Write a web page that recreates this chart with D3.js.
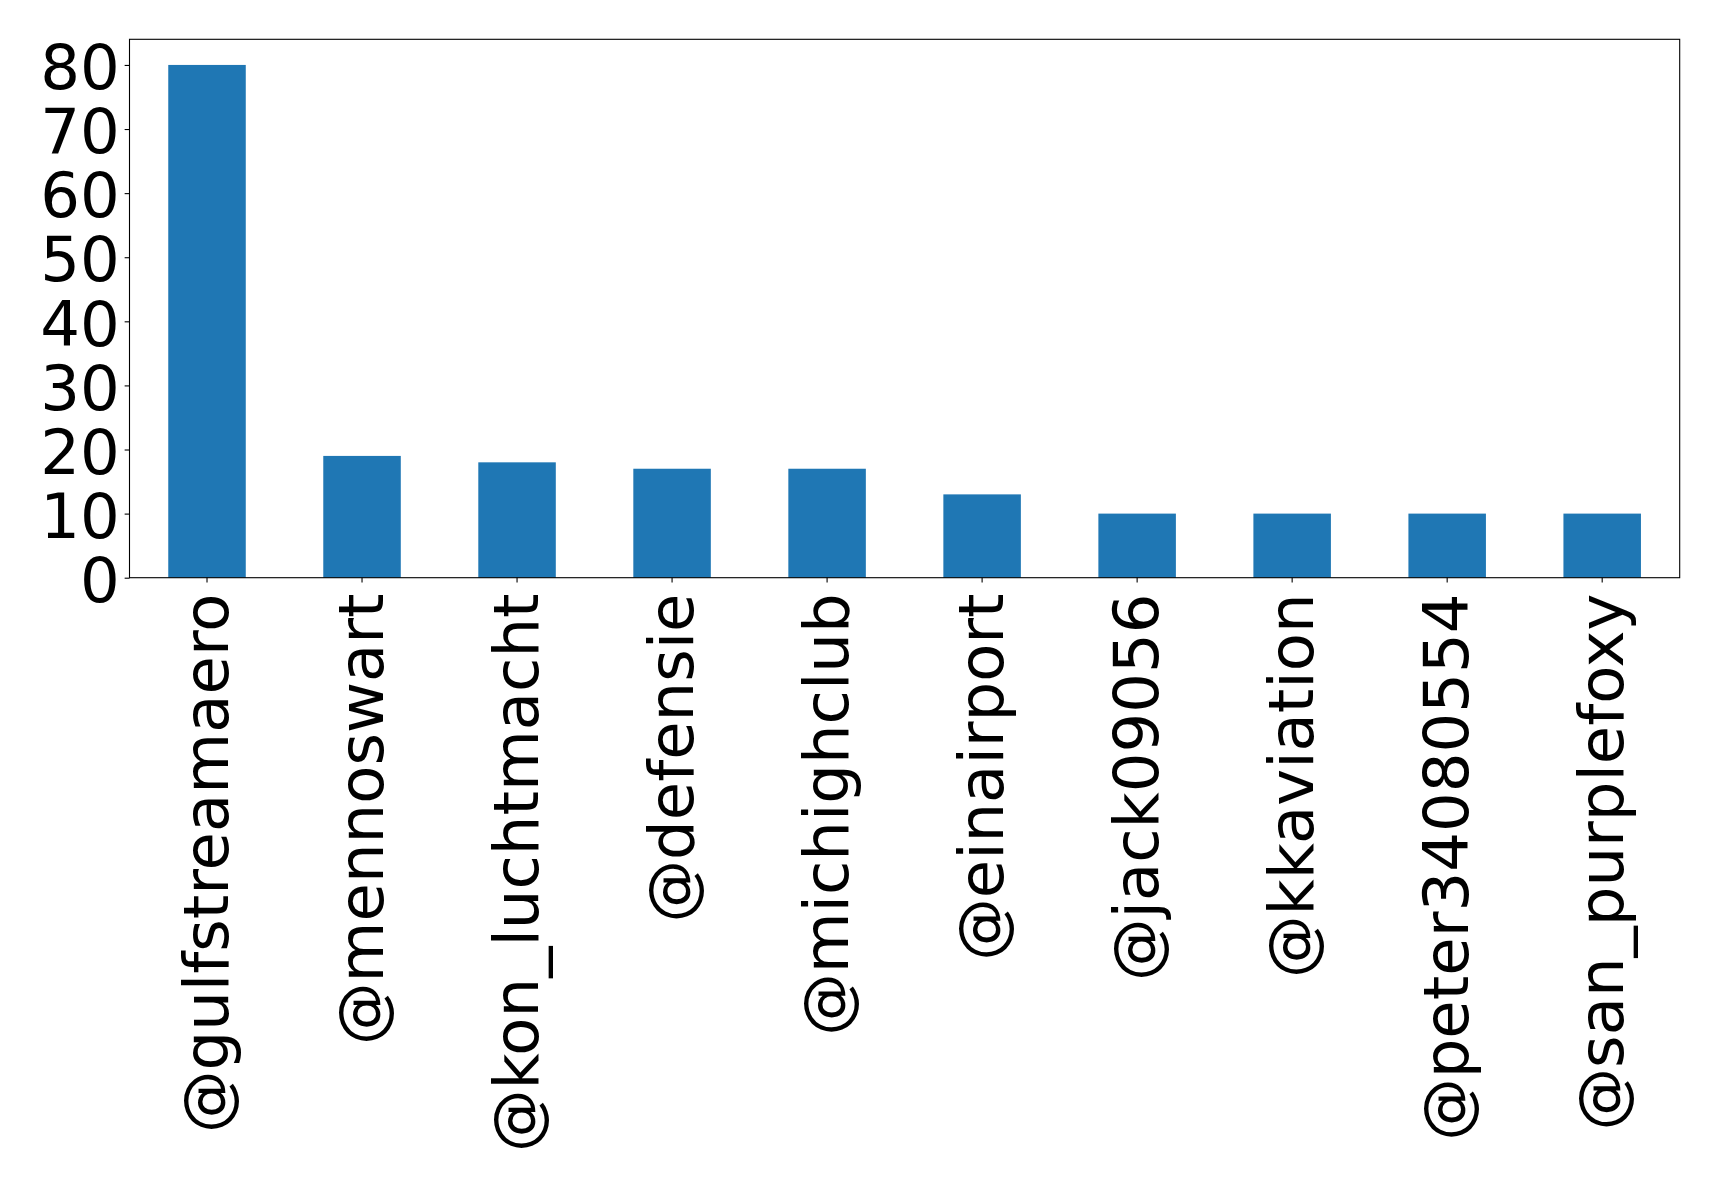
<!DOCTYPE html>
<html>
<head>
<meta charset="utf-8">
<script src="https://cdn.jsdelivr.net/npm/d3@7"></script>
<style>
html,body{margin:0;padding:0;background:#fff;}
svg{display:block;}
text{font-family:"DejaVu Sans",sans-serif;}
</style>
</head>
<body>
<script>
const categories = ["@gulfstreamaero","@mennoswart","@kon_luchtmacht","@defensie","@michighclub","@einairport","@jack09056","@kkaviation","@peter34080554","@san_purplefoxy"];
const values = [80,19,18,17,17,13,10,10,10,10];
const yTicks = [0,10,20,30,40,50,60,70,80];

(function () {
const W = 1719, H = 1186;
const mLeft = 129.5, mRight = 1679.7, mTop = 39.3, mBottom = 577.7;
const fontSize = 62.5;

const svg = d3.select("body").append("svg").attr("width", W).attr("height", H);
svg.append("rect").attr("width", W).attr("height", H).attr("fill", "#fff");

const x = d3.scaleBand().domain(categories).range([mLeft, mRight]).paddingInner(0.5).paddingOuter(0.25);
const y = d3.scaleLinear().domain([0, 84]).range([mBottom, mTop]);

svg.append("g").selectAll("rect").data(values).join("rect")
  .attr("x", (d, i) => x(categories[i]))
  .attr("width", x.bandwidth())
  .attr("y", d => y(d))
  .attr("height", d => y(0) - y(d))
  .attr("fill", "#1f77b4");

svg.append("rect").attr("x", mLeft).attr("y", mTop).attr("width", mRight - mLeft).attr("height", mBottom - mTop)
  .attr("fill", "none").attr("stroke", "#000").attr("stroke-width", 1.1);

const tickLen = 4.86, pad = 4.86;

const yAxis = d3.axisLeft(y).tickValues(yTicks).tickSize(tickLen).tickPadding(pad).tickFormat(d3.format("d"));
const gy = svg.append("g").attr("transform", `translate(${mLeft},0)`).call(yAxis);
gy.select(".domain").remove();
gy.selectAll(".tick line").attr("stroke", "#000").attr("stroke-width", 1.1);
gy.selectAll(".tick text").attr("font-size", fontSize).attr("fill", "#000").attr("dy", "0.38em")
  .attr("font-family", "DejaVu Sans");

const xAxis = d3.axisBottom(x).tickSize(tickLen).tickPadding(pad);
const gx = svg.append("g").attr("transform", `translate(0,${mBottom})`).call(xAxis);
gx.select(".domain").remove();
gx.selectAll(".tick line").attr("stroke", "#000").attr("stroke-width", 1.1);
gx.selectAll(".tick text")
  .attr("font-size", fontSize).attr("fill", "#000").attr("font-family", "DejaVu Sans")
  .attr("text-anchor", "end")
  .attr("x", 0).attr("y", 0)
  .attr("dy", "0.33em")
  .attr("transform", `translate(0,${tickLen + pad + 6}) rotate(-90)`);
})();
</script>
</body>
</html>
